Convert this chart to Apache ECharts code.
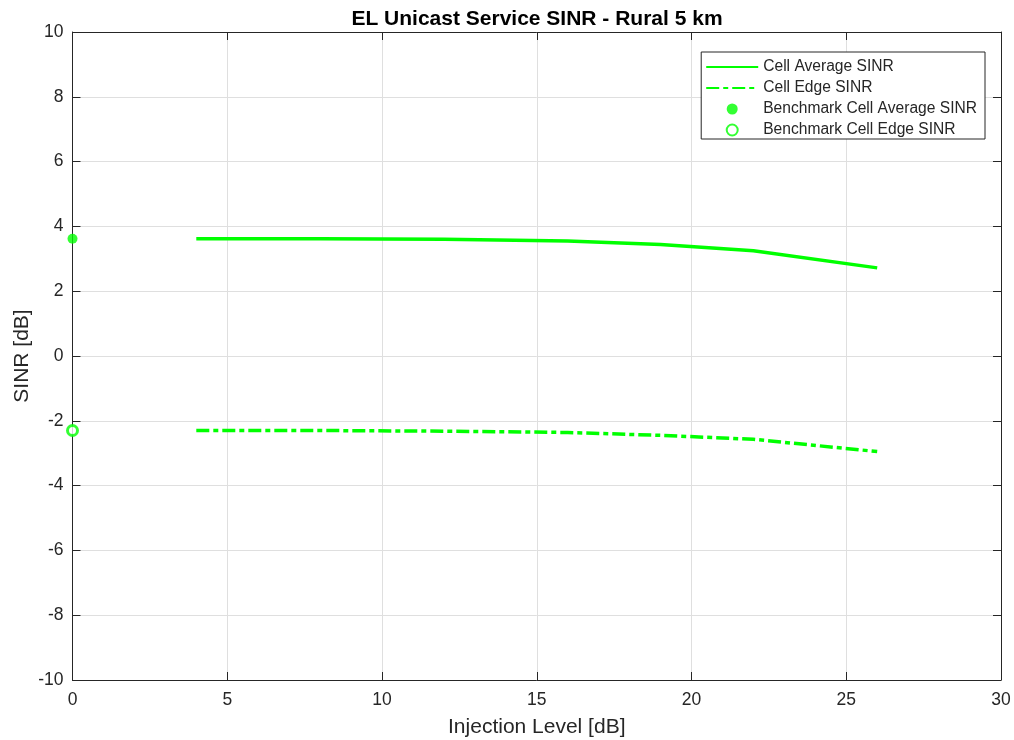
<!DOCTYPE html>
<html>
<head>
<meta charset="utf-8">
<title>EL Unicast Service SINR - Rural 5 km</title>
<script src="https://cdn.jsdelivr.net/npm/echarts@6/dist/echarts.min.js"></script>
<style>
  html, body { margin: 0; padding: 0; background: #fff; }
  #chart { width: 1014px; height: 740px; }
</style>
</head>
<body>
<div id="chart"></div>
<script>
// Injection levels (dB) and simulated SINR results
const injectionLevels = [4, 8, 12, 16, 19, 22, 26];
const cellAverageSinr = [3.62, 3.62, 3.60, 3.55, 3.44, 3.25, 2.72];
const cellEdgeSinr = [-2.30, -2.30, -2.32, -2.36, -2.45, -2.57, -2.95];

// Benchmark values, plotted at 0 dB injection
const benchmarkLevel = [0];
const benchmarkAverageSinr = [3.62];
const benchmarkEdgeSinr = [-2.30];

const seriesNames = ['Cell Average SINR', 'Cell Edge SINR', 'Benchmark Cell Average SINR', 'Benchmark Cell Edge SINR'];

const GREEN = '#00ff00';
const INK = '#262626';
const FONT = '"Liberation Sans", Arial, Helvetica, sans-serif';

const pairs = (xs, ys) => xs.map((x, i) => [x, ys[i]]);

// Box-style frame on the top and right edges: ticks only, no labels
const frameAxis = {
  axisLine: { show: true, onZero: false, lineStyle: { color: INK, width: 1 } },
  axisTick: { show: true, inside: true, length: 8, lineStyle: { color: INK } },
  axisLabel: { show: false },
  splitLine: { show: false }
};

// Line entries in the legend show only the stroke, no marker
const hiddenMarker = { color: 'rgba(0,0,0,0)', borderWidth: 0, opacity: 0 };

const chart = echarts.init(document.getElementById('chart'), null, { renderer: 'canvas' });
chart.setOption({
  backgroundColor: '#ffffff',
  animation: false,
  title: {
    text: 'EL Unicast Service SINR - Rural 5 km',
    left: 532, top: 4, textAlign: 'center',
    textStyle: { fontFamily: FONT, fontSize: 21, fontWeight: 'bold', color: '#000' }
  },
  grid: {
    left: 72.5, right: 13, top: 32, bottom: 60,
    containLabel: false, outerBoundsMode: 'none'
  },
  legend: {
    orient: 'vertical',
    right: 29, top: 52,
    data: [
      { name: seriesNames[0], itemStyle: hiddenMarker },
      { name: seriesNames[1], itemStyle: hiddenMarker },
      { name: seriesNames[2] },
      { name: seriesNames[3] }
    ],
    itemWidth: 52, itemHeight: 11, itemGap: 5,
    padding: [7, 8, 1, 4],
    backgroundColor: '#ffffff',
    borderColor: INK, borderWidth: 1,
    textStyle: { fontFamily: FONT, fontSize: 15.6, color: INK }
  },
  xAxis: [
    {
      type: 'value', min: 0, max: 30, interval: 5,
      name: 'Injection Level [dB]', nameLocation: 'middle', nameGap: 37,
      nameMoveOverlap: false,
      nameTextStyle: { fontFamily: FONT, fontSize: 21, color: INK },
      axisLine: { show: true, onZero: false, lineStyle: { color: INK, width: 1 } },
      axisTick: { show: true, inside: true, length: 8, lineStyle: { color: INK } },
      axisLabel: { fontFamily: FONT, fontSize: 17.5, color: INK, margin: 11 },
      splitLine: { show: true, lineStyle: { color: '#dfdfdf', width: 1 } }
    },
    Object.assign({ type: 'value', position: 'top', min: 0, max: 30, interval: 5 }, frameAxis)
  ],
  yAxis: [
    {
      type: 'value', min: -10, max: 10, interval: 2,
      name: 'SINR [dB]', nameLocation: 'middle', nameGap: 40,
      nameMoveOverlap: false,
      nameTextStyle: { fontFamily: FONT, fontSize: 21, color: INK },
      axisLine: { show: true, onZero: false, lineStyle: { color: INK, width: 1 } },
      axisTick: { show: true, inside: true, length: 8, lineStyle: { color: INK } },
      axisLabel: { fontFamily: FONT, fontSize: 17.5, color: INK, margin: 9 },
      splitLine: { show: true, lineStyle: { color: '#dfdfdf', width: 1 } }
    },
    Object.assign({ type: 'value', position: 'right', min: -10, max: 10, interval: 2 }, frameAxis)
  ],
  series: [
    {
      name: seriesNames[0], type: 'line',
      data: pairs(injectionLevels, cellAverageSinr),
      symbol: 'none', smooth: false,
      lineStyle: { color: GREEN, width: 3.5 },
      itemStyle: { color: GREEN }
    },
    {
      name: seriesNames[1], type: 'line',
      data: pairs(injectionLevels, cellEdgeSinr),
      symbol: 'none', smooth: false,
      lineStyle: { color: GREEN, width: 3.5, type: [13, 4, 5, 4] },
      itemStyle: { color: GREEN }
    },
    {
      name: seriesNames[2], type: 'scatter',
      data: pairs(benchmarkLevel, benchmarkAverageSinr),
      symbol: 'circle', symbolSize: 10, clip: false,
      itemStyle: { color: GREEN }
    },
    {
      name: seriesNames[3], type: 'scatter',
      data: pairs(benchmarkLevel, benchmarkEdgeSinr),
      symbol: 'circle', symbolSize: 10, clip: false,
      itemStyle: { color: '#ffffff', borderColor: GREEN, borderWidth: 3 }
    }
  ]
});
</script>
</body>
</html>
